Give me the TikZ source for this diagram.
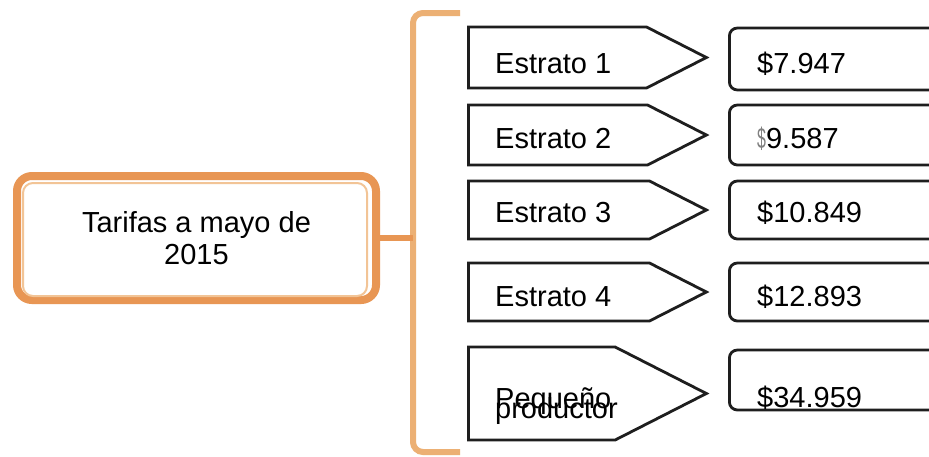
\documentclass[tikz,border=0pt]{standalone}
\usepackage{fontspec}
\setmainfont{Liberation Sans}
\usetikzlibrary{shapes.symbols}
\definecolor{marco}{RGB}{232,150,84}
\definecolor{marcoclaro}{RGB}{242,196,150}
\definecolor{llave}{RGB}{236,176,116}
\definecolor{trazo}{RGB}{30,30,30}

\begin{document}
\begin{tikzpicture}[x=1pt, y=-1pt,
    estrato/.style={shape=signal, signal to=east, signal pointer angle=54, draw=trazo, line width=2.8pt, minimum width=238pt, anchor=west, inner sep=0pt},
    valor/.style={draw=trazo, rounded corners=8pt, line width=2.8pt, minimum width=260pt, anchor=west, inner sep=0pt},
    texto/.style={anchor=base west, inner sep=0pt, font=\fontsize{29}{29}\selectfont}]
            \clip (0,0) rectangle (929,456);
            \fill[white] (0,0) rectangle (929,456);

            % caja central
            \node[draw=marco, line width=8pt, rounded corners=15pt, minimum width=359pt, minimum height=124pt, align=center, font=\fontsize{29}{32}\selectfont] (tarifas) at (196.5, 238){Tarifas a mayo de\\2015};
            \draw[marcoclaro, line width=2pt, rounded corners=10pt] ([shift={(10pt,-11pt)}]tarifas.north west) rectangle ([shift={(-13pt,8pt)}]tarifas.south east);

            % llave
            \coordinate (btop) at (460, 13);
            \coordinate (bmid) at (413, 238);
            \coordinate (bbot) at (460, 452);
            \draw[llave, line width=6pt, rounded corners=10pt] (btop) -| (bmid) |- (bbot);
            \draw[marco, line width=6pt] (tarifas.east) -- (bmid);

            % estratos
            \node[estrato, minimum height=61pt] (e1) at (467, 57.5){};
            \node[estrato, minimum height=60pt] (e2) at (467, 135){};
            \node[estrato, minimum height=58pt] (e3) at (467, 210){};
            \node[estrato, minimum height=58pt] (e4) at (467, 292){};
            \node[estrato, minimum height=93pt] (e5) at (467, 393.5){};

            \node[texto] (t1) at (495, 73){Estrato 1};
            \node[texto] (t2) at (495, 148){Estrato 2};
            \node[texto] (t3) at (495, 222){Estrato 3};
            \node[texto] (t4) at (495, 306){Estrato 4};
            \node[texto] (t5a) at (495, 408){Pequeño};
            \node[texto] (t5b) at (495, 418){productor};

            % valores
            \node[valor, minimum height=62pt] (v1) at (728, 59){};
            \node[valor, minimum height=60pt] (v2) at (728, 135){};
            \node[valor, minimum height=58pt] (v3) at (728, 210){};
            \node[valor, minimum height=58pt] (v4) at (728, 292){};
            \node[valor, minimum height=60pt] (v5) at (728, 380){};

            \node[texto] (p1) at (757, 73){\$7.947};
            \node[texto] (p2) at (757, 148){\textcolor{gray}{\scalebox{0.55}[1]{\$}}9.587};
            \node[texto] (p3) at (757, 222){\$10.849};
            \node[texto] (p4) at (757, 306){\$12.893};
            \node[texto] (p5) at (757, 407){\$34.959};
        \end{tikzpicture}
\end{document}
